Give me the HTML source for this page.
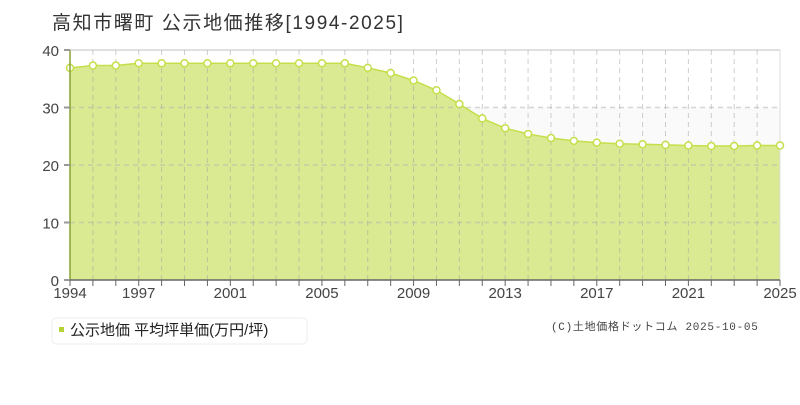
<!DOCTYPE html>
<html><head><meta charset="utf-8"><style>
body{margin:0;background:#fff;width:800px;height:400px;overflow:hidden;font-family:"Liberation Sans","Noto Sans CJK JP",sans-serif}
</style></head><body>
<svg width="800" height="400" xmlns="http://www.w3.org/2000/svg" font-family="Liberation Sans, Noto Sans CJK JP, sans-serif">
<text x="52" y="29" font-size="19" fill="#333" letter-spacing="1.6">高知市曙町 公示地価推移[1994-2025]</text>
<rect x="70" y="50" width="710" height="230" fill="#fff"/>
<rect x="70" y="107.5" width="710" height="57.5" fill="#fafafa"/>
<g id="a"></g>
<g id="g"></g>
<g id="b"></g>
<text x="551" y="330" font-size="11" fill="#444" letter-spacing="0.7" font-family="Liberation Mono, Noto Sans CJK JP, monospace">(C)土地価格ドットコム 2025-10-05</text>
<rect x="52" y="318" width="255" height="26" rx="4" fill="#fff" stroke="#eee"/>
<rect x="59" y="327" width="5" height="5" fill="#b5d334"/>
<text x="70" y="335" font-size="15" fill="#222">公示地価 平均坪単価(万円/坪)</text>
</svg>
<script>
var d=[36.9,37.3,37.3,37.7,37.7,37.7,37.7,37.7,37.7,37.7,37.7,37.7,37.7,36.9,36.0,34.7,33.0,30.6,28.1,26.4,25.4,24.7,24.2,23.9,23.7,23.6,23.5,23.4,23.3,23.3,23.4,23.4];
var ns="http://www.w3.org/2000/svg",g=document.getElementById('g'),a=document.getElementById('a'),b=document.getElementById('b');
function X(i){return 70+i*710/31}function Y(v){return 280-v*5.75}
function el(p,t,at){var e=document.createElementNS(ns,t);for(var k in at)e.setAttribute(k,at[k]);p.appendChild(e);return e}
var p='M70,280';d.forEach(function(v,i){p+=' L'+X(i)+','+Y(v)});p+=' L780,280Z';
el(a,'path',{d:p,fill:'#d9ea92'});
for(var v=10;v<=40;v+=10)el(g,'line',{x1:70,x2:780,y1:Y(v),y2:Y(v),stroke:'rgba(180,180,180,0.55)','stroke-width':1.5,'stroke-dasharray':v==40?'':'5,4'});
for(var i=1;i<=31;i++)el(g,'line',{x1:X(i),x2:X(i),y1:50,y2:280,stroke:'rgba(160,160,160,0.5)','stroke-dasharray':'5,4'});
el(g,'line',{x1:780,x2:780,y1:50,y2:280,stroke:'#ddd'});
var l='';d.forEach(function(v,i){l+=(i?' L':'M')+X(i)+','+Y(v)});
el(b,'path',{d:l,fill:'none',stroke:'#c5df4a','stroke-width':1.5});
d.forEach(function(v,i){el(b,'circle',{cx:X(i),cy:Y(v),r:3.5,fill:'#fff',stroke:'#c5df4a','stroke-width':1.5})});
el(b,'line',{x1:70,x2:70,y1:50,y2:280,stroke:'#8aa03a','stroke-width':1.5});
el(b,'line',{x1:70,x2:780,y1:280,y2:280,stroke:'#666','stroke-width':1.5});
for(var v=0;v<=40;v+=10){el(b,'line',{x1:64,x2:70,y1:Y(v),y2:Y(v),stroke:'#999','stroke-width':2});var t=el(b,'text',{x:59,y:Y(v)+6,'font-size':15,fill:'#444','text-anchor':'end'});t.textContent=v;}
for(var i=0;i<=31;i++){el(b,'line',{x1:X(i),x2:X(i),y1:280,y2:286,stroke:'#666'});}
[1994,1997,2001,2005,2009,2013,2017,2021,2025].forEach(function(y){var t=el(b,'text',{x:X(y-1994),y:298,'font-size':15,fill:'#444','text-anchor':'middle'});t.textContent=y;});
</script>
</body></html>
